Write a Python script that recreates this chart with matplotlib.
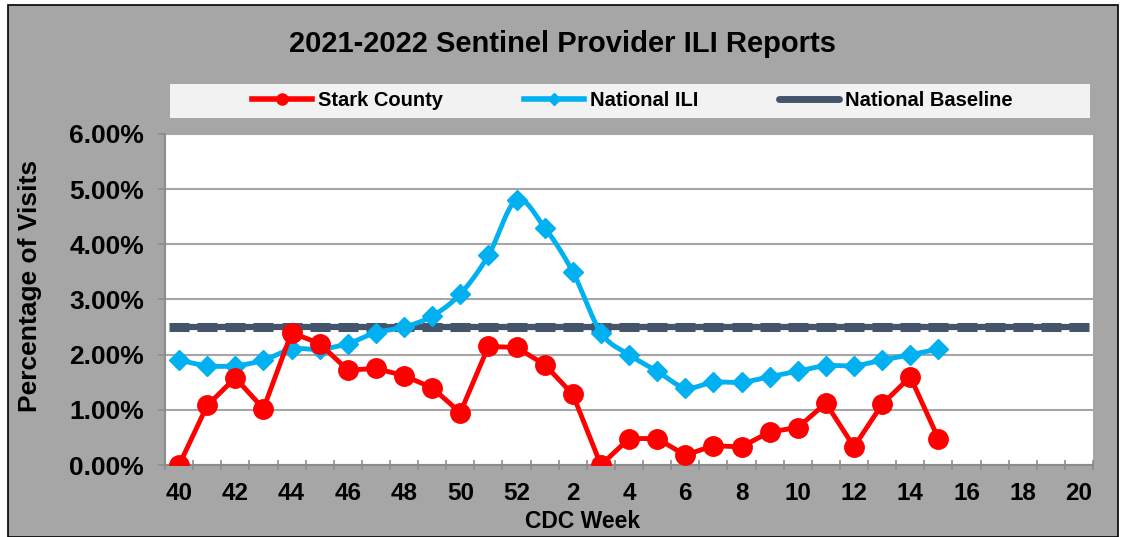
import numpy as np
import matplotlib.pyplot as plt
from matplotlib.patches import Rectangle
from matplotlib.lines import Line2D
from matplotlib.ticker import FuncFormatter, MultipleLocator

plt.rcParams['font.family'] = ['Liberation Sans', 'DejaVu Sans']
plt.rcParams['font.weight'] = 'bold'

weeks = [40, 41, 42, 43, 44, 45, 46, 47, 48, 49, 50, 51, 52] + list(range(1, 21))
stark = [0.00, 1.08, 1.58, 1.02, 2.40, 2.20, 1.72, 1.75, 1.62, 1.40, 0.95, 2.15, 2.13,
         1.82, 1.28, 0.00, 0.48, 0.48, 0.18, 0.35, 0.33, 0.60, 0.68, 1.12, 0.33, 1.10,
         1.60, 0.48]
national = [1.9, 1.8, 1.8, 1.9, 2.1, 2.1, 2.2, 2.4, 2.5, 2.7, 3.1, 3.8, 4.8,
            4.3, 3.5, 2.4, 2.0, 1.7, 1.4, 1.5, 1.5, 1.6, 1.7, 1.8, 1.8, 1.9, 2.0, 2.1]
baseline = [2.5] * len(weeks)


def smooth(x, y, n=12):
    # catmull-rom style curve, like Excel's smoothed line
    x = np.asarray(x, float)
    y = np.asarray(y, float)
    px = np.concatenate([[2 * x[0] - x[1]], x, [2 * x[-1] - x[-2]]])
    py = np.concatenate([[2 * y[0] - y[1]], y, [2 * y[-1] - y[-2]]])
    xs, ys = [], []
    t = np.linspace(0, 1, n, endpoint=False)
    for i in range(1, len(px) - 2):
        for arr, out in ((px, xs), (py, ys)):
            p0, p1, p2, p3 = arr[i - 1], arr[i], arr[i + 1], arr[i + 2]
            out.extend(0.5 * ((2 * p1) + (-p0 + p2) * t
                              + (2 * p0 - 5 * p1 + 4 * p2 - p3) * t ** 2
                              + (-p0 + 3 * p1 - 3 * p2 + p3) * t ** 3))
    xs.append(x[-1])
    ys.append(y[-1])
    return xs, ys


fig = plt.figure(figsize=(11.25, 5.37), dpi=100)
fig.patch.set_facecolor('white')
fig.patches.append(Rectangle((0.007, 0.0), 0.987, 0.99, transform=fig.transFigure,
                             facecolor='#A6A6A6', edgecolor='black', lw=1.2, zorder=-2))
fig.patches.append(Rectangle((0.151, 0.780), 0.818, 0.063, transform=fig.transFigure,
                             facecolor='#F2F2F2', edgecolor='none', zorder=-1))

ax = fig.add_axes([0.1467, 0.134, 0.8249, 0.6166])
ax.set_facecolor('white')

x = np.arange(len(weeks))
ax.plot(x, baseline, color='#44546A', lw=4.5, marker='_', ms=15, mew=6.5,
        solid_capstyle='round', zorder=3)
sx, sy = smooth(x[:len(national)], national)
ax.plot(sx, sy, color='#00B0F0', lw=3.5, zorder=4)
ax.plot(x[:len(national)], national, color='#00B0F0', lw=0, marker='D', ms=10, zorder=4)
ax.plot(x[:len(stark)], stark, color='#FF0000', lw=3.5, marker='o', ms=14, zorder=5)

handles = [Line2D([], [], color='#FF0000', lw=4, marker='o', ms=8),
           Line2D([], [], color='#00B0F0', lw=4, marker='D', ms=6),
           Line2D([], [], color='#44546A', lw=5, solid_capstyle='round')]
fig.legend(handles, ['Stark County', 'National ILI', 'National Baseline'], loc='center',
           bbox_to_anchor=(0.562, 0.812), ncol=3, frameon=False, fontsize=14.5,
           handlelength=3.0, handletextpad=0.3, columnspacing=4.0)

ax.set_xlim(-0.5, len(weeks) - 0.5)
ax.set_ylim(0, 6)
ax.yaxis.set_major_locator(MultipleLocator(1))
ax.yaxis.set_major_formatter(FuncFormatter(lambda v, p: f'{v:.2f}%'))
ax.set_xticks(x[::2])
ax.set_xticklabels([str(w) for w in weeks[::2]])
ax.set_xticks(np.arange(-0.5, len(weeks), 1), minor=True)
ax.tick_params(axis='x', which='major', length=0, labelsize=17.5, pad=12)
ax.tick_params(axis='x', which='minor', length=7, color='#8C8C8C', width=1.2, direction='inout')
ax.tick_params(axis='y', length=5, color='#8C8C8C', width=1.2, labelsize=19, pad=10)
ax.grid(axis='y', color='#A6A6A6', lw=1.5)
ax.set_axisbelow(True)
for s in ['top', 'right']:
    ax.spines[s].set_visible(False)
for s in ['left', 'bottom']:
    ax.spines[s].set_color('#8C8C8C')
    ax.spines[s].set_linewidth(1.5)

ax.set_xlabel('CDC Week', fontsize=16.5, fontweight='bold')
ax.xaxis.set_label_coords(0.45, -0.135)
ax.set_ylabel('Percentage of Visits', fontsize=19, fontweight='bold')
ax.yaxis.set_label_coords(-0.1325, 0.54)
fig.text(0.5, 0.918, '2021-2022 Sentinel Provider ILI Reports', ha='center', va='center',
         fontsize=21, fontweight='bold')

fig.savefig('out.png', dpi=100)
